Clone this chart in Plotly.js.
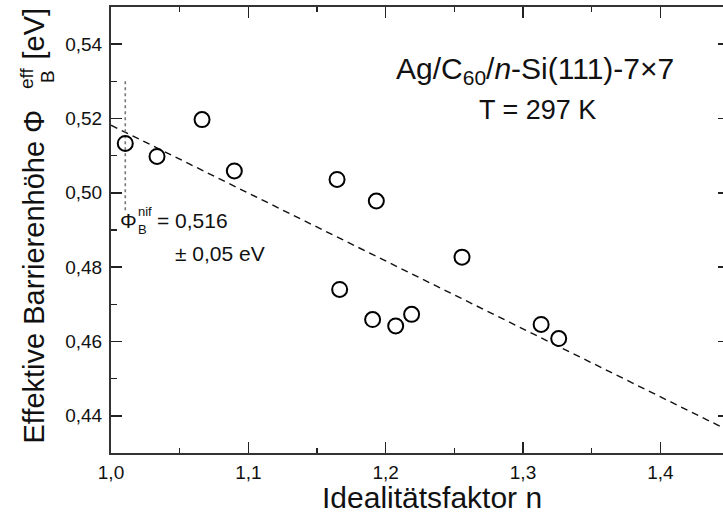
<!DOCTYPE html>
<html>
<head>
<meta charset="utf-8">
<script src="https://cdn.plot.ly/plotly-3.0.1.min.js"></script>
<style>
html, body { margin: 0; padding: 0; overflow: hidden; background: #fff; }
#chart { width: 735px; height: 525px; }
</style>
</head>
<body>
<div id="chart"></div>
<script>
// Measured data: ideality factor n vs effective barrier height (eV)
const idealityN = [1.0104, 1.0335, 1.0663, 1.0898, 1.1646, 1.1932, 1.2556, 1.1665, 1.1905, 1.2073, 1.2189, 1.3132, 1.3260];
const barrierPhi = [0.5133, 0.5098, 0.5197, 0.5059, 0.5036, 0.4978, 0.4827, 0.4740, 0.4659, 0.4642, 0.4673, 0.4646, 0.4608];

// Linear fit (dashed)
const fitN = [1.0, 1.45];
const fitPhi = [0.5182, 0.4360];

// Dotted marker line at n of the first point
const markN = [1.0104, 1.0104];
const markPhi = [0.530, 0.495];

// Axis ticks
const xTicks = [1.0, 1.1, 1.2, 1.3, 1.4];
const yTicks = [0.44, 0.46, 0.48, 0.50, 0.52, 0.54];

const FONT = 'Liberation Sans, Arial, Helvetica, sans-serif';
const INK = '#111';

const traces = [
  {
    x: fitN, y: fitPhi, mode: 'lines', type: 'scatter',
    line: { color: INK, width: 1.4, dash: '7px,5px' },
    hoverinfo: 'skip', showlegend: false
  },
  {
    x: markN, y: markPhi, mode: 'lines', type: 'scatter',
    line: { color: '#777', width: 1.6, dash: 'dot' },
    hoverinfo: 'skip', showlegend: false
  },
  {
    x: idealityN, y: barrierPhi, mode: 'markers', type: 'scatter',
    marker: { symbol: 'circle-open', size: 15, color: '#000', line: { width: 2, color: '#000' } },
    showlegend: false
  }
];

const axisCommon = {
  showgrid: false, zeroline: false,
  showline: true, linewidth: 2, linecolor: '#333',
  mirror: 'allticks',
  ticks: 'inside', ticklen: 11, tickwidth: 1.5, tickcolor: '#222',
  tickfont: { family: FONT, size: 19, color: INK },
  automargin: false
};

function txt(text, x, y, size, opts) {
  return Object.assign({
    x: x, y: y, xref: 'paper', yref: 'paper', text: text, showarrow: false,
    xanchor: 'center', yanchor: 'middle',
    font: { family: FONT, size: size, color: INK }
  }, opts || {});
}
function dtxt(text, x, y, size, opts) {
  return txt(text, x, y, size, Object.assign({ xref: 'x', yref: 'y' }, opts || {}));
}

// plot area in page pixels: x 111..729, y 7..453
const PX = (px) => (px - 111) / 618;
const PY = (py) => (453 - py) / 446;

const layout = {
  width: 735, height: 525,
  margin: { l: 111, r: 6, t: 7, b: 72 },
  paper_bgcolor: '#fff', plot_bgcolor: '#fff',
  separators: ',.',
  font: { family: FONT, color: INK },
  showlegend: false,
  xaxis: Object.assign({}, axisCommon, {
    range: [1.0, 1.45],
    tickvals: xTicks, tickformat: '.1f',
    ticklabelstandoff: 1,
    minor: { ticks: 'inside', dtick: 0.05, tick0: 1.0, ticklen: 5, tickwidth: 1.5, tickcolor: '#222' }
  }),
  yaxis: Object.assign({}, axisCommon, {
    range: [0.43, 0.55],
    tickvals: yTicks, tickformat: '.2f',
    ticklabelstandoff: 3,
    minor: { ticks: 'inside', dtick: 0.01, tick0: 0.43, ticklen: 6, tickwidth: 1.5, tickcolor: '#222' }
  }),
  annotations: [
    // x-axis title
    txt('Idealitätsfaktor n', PX(432), PY(497), 30),
    // y-axis title (rotated, with stacked sub/superscript)
    txt('Effektive Barrierenhöhe Φ', PX(33), PY(276.5), 29, { textangle: -90 }),
    txt('eff', PX(26.5), PY(77.5), 19, { textangle: -90 }),
    txt('B', PX(47.5), PY(76.5), 19, { textangle: -90 }),
    txt('[eV]', PX(33), PY(33.5), 29, { textangle: -90 }),
    // sample labels
    dtxt('Ag/C<sub>60</sub>/<i>n</i>-Si(111)-7×7', 1.3088, 0.5329, 30),
    dtxt('T = 297 K', 1.3105, 0.5222, 27),
    // barrier value with stacked sub/superscript
    dtxt('Φ', 1.0050, 0.4925, 21, { xanchor: 'left' }),
    dtxt('nif', 1.0180, 0.4950, 13, { xanchor: 'left' }),
    dtxt('B', 1.0183, 0.4902, 13, { xanchor: 'left' }),
    dtxt('= 0,516', 1.0323, 0.4925, 21, { xanchor: 'left' }),
    dtxt('± 0,05 eV', 1.0454, 0.4837, 21, { xanchor: 'left' })
  ]
};

Plotly.newPlot('chart', traces, layout, { displayModeBar: false, staticPlot: true });
</script>
</body>
</html>
